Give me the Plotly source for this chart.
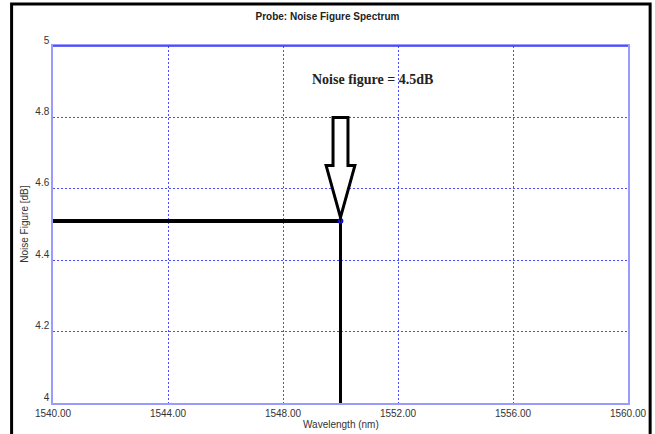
import plotly.graph_objects as go

# Probe reading
wavelength_nm = [1550.0]
noise_figure_db = [4.51]

x_ticks = [1540, 1544, 1548, 1552, 1556, 1560]
x_tick_labels = ["1540.00", "1544.00", "1548.00", "1552.00", "1556.00", "1560.00"]
y_ticks = [4, 4.2, 4.4, 4.6, 4.8, 5]
y_tick_labels = ["4", "4.2", "4.4", "4.6", "4.8", "5"]

x_range = [1540, 1560]
y_range = [4, 5]

x0 = wavelength_nm[0]
nf = noise_figure_db[0]

fig = go.Figure()

# Horizontal guide from the y axis to the reading
fig.add_trace(go.Scatter(
    x=[x_range[0], x0], y=[nf, nf], mode="lines",
    line=dict(color="black", width=4), hoverinfo="skip", showlegend=False))
# Vertical guide from the reading down to the x axis
fig.add_trace(go.Scatter(
    x=[x0, x0], y=[nf, y_range[0]], mode="lines",
    line=dict(color="black", width=3), hoverinfo="skip", showlegend=False))
# The measured point
fig.add_trace(go.Scatter(
    x=wavelength_nm, y=noise_figure_db, mode="markers",
    marker=dict(color="#2020ff", size=5, line=dict(color="#0000cc", width=1)),
    showlegend=False))

# Hollow block arrow pointing at the reading
shaft_hw = 0.26
head_hw = 0.5
tip = nf + 0.01
head_base = nf + 0.155
shaft_top = y_ticks[4]
arrow_path = (
    f"M {x0 - shaft_hw},{shaft_top} L {x0 + shaft_hw},{shaft_top} "
    f"L {x0 + shaft_hw},{head_base} L {x0 + head_hw},{head_base} "
    f"L {x0},{tip} L {x0 - head_hw},{head_base} "
    f"L {x0 - shaft_hw},{head_base} Z"
)
fig.add_shape(type="path", path=arrow_path, xref="x", yref="y",
              line=dict(color="black", width=3), fillcolor="white", layer="above")

fig.add_annotation(
    x=x0 + 1.1, y=shaft_top + 0.105, xref="x", yref="y",
    text=f"<b>Noise figure = {nf:.1f}dB</b>", showarrow=False,
    font=dict(family="Liberation Serif, DejaVu Serif", size=14, color="#222222"))

axis_title_font = dict(family="Liberation Sans, Arial", size=10, color="#333333")

# Axis titles placed as paper annotations
fig.add_annotation(x=0.5, y=-0.059, xref="paper", yref="paper",
                   text="Wavelength (nm)", showarrow=False, yanchor="middle",
                   font=axis_title_font)
fig.add_annotation(x=-0.05, y=0.5, xref="paper", yref="paper",
                   text="Noise Figure [dB]", showarrow=False, textangle=-90,
                   xanchor="center", yanchor="middle", font=axis_title_font)

# Top frame edge drawn in a stronger blue
fig.add_shape(type="line", xref="paper", yref="paper", x0=0, x1=1, y0=1, y1=1,
              line=dict(color="#3333ff", width=1.5), layer="above")

# Outer black frame around the whole probe window
fig.add_shape(type="rect", xref="paper", yref="paper",
              x0=-0.072, x1=1.0385, y0=-0.095, y1=1.1176,
              line=dict(color="black", width=3))

tick_font = dict(family="Liberation Sans Narrow, Liberation Sans, Arial", size=10, color="#333333")
grid_blue = "#4a4aff"

fig.update_layout(
    width=655, height=434,
    margin=dict(l=53, r=27, t=46, b=31),
    paper_bgcolor="white", plot_bgcolor="white",
    title=dict(text="<b>Probe: Noise Figure Spectrum</b>", x=0.5, xref="container",
               y=0.963, yanchor="middle",
               font=dict(family="Liberation Sans Narrow, Liberation Sans, Arial", size=10, color="#222222")),
    xaxis=dict(
        range=x_range, tickvals=x_ticks, ticktext=x_tick_labels,
        showgrid=True, gridcolor=grid_blue, griddash="2px,2px", gridwidth=1,
        showline=True, linecolor="#9a9aff", linewidth=1.5, mirror=True,
        zeroline=False, ticks="", tickfont=tick_font, automargin=False,
    ),
    yaxis=dict(
        range=y_range, tickvals=y_ticks, ticktext=y_tick_labels,
        showgrid=True, gridcolor=grid_blue, griddash="2px,2px", gridwidth=1,
        showline=True, linecolor="#9a9aff", linewidth=1.5, mirror=True,
        zeroline=False, ticks="", tickfont=tick_font, ticklabelshift=-6,
        automargin=False,
    ),
)

fig.write_html("out.html")
